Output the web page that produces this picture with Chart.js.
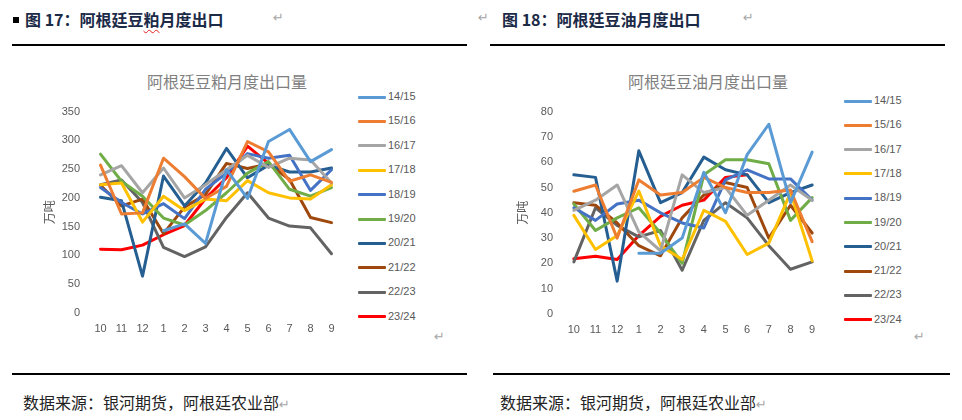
<!DOCTYPE html>
<html lang="zh">
<head>
<meta charset="utf-8">
<title>阿根廷豆粕、豆油月度出口</title>
<script src="https://cdn.jsdelivr.net/npm/chart.js@4.4.1/dist/chart.umd.min.js"></script>
<style>
  html, body { margin: 0; padding: 0; background: #fff; }
  body { width: 962px; height: 420px; position: relative; overflow: hidden; font-family: "Noto Sans CJK SC", sans-serif; }
  .abs { position: absolute; white-space: nowrap; }
  .fig-title { font-size: 16px; font-weight: 700; color: #1b2a47; line-height: 20px; }
  .sq { display: inline-block; width: 6px; height: 6px; background: #000; margin-right: 6px; vertical-align: 3px; }
  .wavy { text-decoration: underline wavy #e02020; text-underline-offset: 3px; text-decoration-thickness: 1px; }
  .ret { color: #a6a6a6; font-family: "DejaVu Sans", sans-serif; font-size: 13px; line-height: 16px; }
  .rule { position: absolute; height: 1.5px; background: #000; }
  .ctitle { font-size: 16px; color: #808080; line-height: 20px; transform: translateX(-50%); }
  .src { font-size: 16px; color: #222; line-height: 20px; }
  .legend-row { position: absolute; height: 14px; line-height: 14px; font-family: "Liberation Sans", sans-serif; font-size: 11px; color: #595959; white-space: nowrap; }
  .legend-row i { display: inline-block; width: 28px; height: 3px; vertical-align: middle; margin-right: 2px; border-radius: 1px; }
  canvas { position: absolute; }
</style>
</head>
<body>

<!-- figure headers -->
<div class="abs fig-title" style="left:13px; top:9px;"><span class="sq"></span>图 17：阿根廷豆<span class="wavy">粕</span>月度出口</div>
<div class="abs ret" style="left:273px; top:10px;">↵</div>
<div class="abs ret" style="left:478px; top:10px;">↵</div>
<div class="abs fig-title" style="left:502px; top:9px;">图 18：阿根廷豆油月度出口</div>
<div class="abs ret" style="left:743px; top:10px;">↵</div>

<div class="rule" style="left:12px; width:455px; top:44px;"></div>
<div class="rule" style="left:490px; width:455px; top:44px;"></div>

<div class="abs ctitle" style="left:227px; top:71px;">阿根廷豆粕月度出口量</div>
<div class="abs ctitle" style="left:708px; top:71px;">阿根廷豆油月度出口量</div>

<canvas id="mealChart" width="320" height="248" style="left:30px; top:95px;"></canvas>
<canvas id="oilChart" width="328" height="249" style="left:503px; top:95px;"></canvas>
<div id="mealLegend"></div>
<div id="oilLegend"></div>

<div class="abs ret" style="left:434px; top:329px;">↵</div>
<div class="abs ret" style="left:914px; top:329px;">↵</div>

<div class="rule" style="left:12px; width:455px; top:373px;"></div>
<div class="rule" style="left:493px; width:457px; top:373px;"></div>

<div class="abs src" style="left:23px; top:392px;">数据来源：银河期货，阿根廷农业部<span class="ret">↵</span></div>
<div class="abs src" style="left:500px; top:392px;">数据来源：银河期货，阿根廷农业部<span class="ret">↵</span></div>

<script>
// marketing years run Oct -> Sep
const months = ["10", "11", "12", "1", "2", "3", "4", "5", "6", "7", "8", "9"];
const seasons = ["14/15", "15/16", "16/17", "17/18", "18/19", "19/20", "20/21", "21/22", "22/23", "23/24"];
const colors = ["#5B9BD5", "#ED7D31", "#A5A5A5", "#FFC000", "#4472C4", "#70AD47", "#255E91", "#9E480E", "#636363", "#FF0000"];

// soybean meal exports, 10k tonnes
const meal1415 = [null, null, null, 143, 155, 121, 249, 199, 298, 319, 263, 284];
const meal1516 = [257, 172, 174, 269, 237, 199, 220, 298, 280, 229, 240, 227];
const meal1617 = [240, 256, 209, 252, 200, 223, 249, 274, 253, 269, 266, 226];
const meal1718 = [223, 226, 158, 203, 178, 198, 195, 230, 209, 200, 198, 223];
const meal1819 = [218, 192, 172, 190, 164, 215, 243, 277, 269, 274, 213, 249];
const meal1920 = [276, 229, 203, 165, 153, 178, 209, 243, 263, 215, 203, 218];
const meal2021 = [201, 195, 64, 238, 186, 226, 286, 235, 257, 245, 245, 252];
const meal2122 = [222, 186, 198, 138, 184, 206, 260, 251, 259, 232, 166, 157];
const meal2223 = [223, 231, 192, 114, 98, 115, 166, 209, 165, 151, 148, 103];
const meal2324 = [111, 110, 118, 136, 152, 199, 235, 290, 260, null, null, null];

// soybean oil exports, 10k tonnes
const oil1415 = [null, null, null, 24, 24, 30, 56, 40, 63, 75, 44, 64];
const oil1516 = [48.5, 51, 30, 53, 47, 48, 54, 50, 48, 48, 49, 28.6];
const oil1617 = [41, 45, 51, 32.5, 25, 55, 48, 50, 39, 45, 51, 45];
const oil1718 = [39, 25.5, 31, 48.6, 27, 21.5, 41, 36.6, 23.5, 28, 48, 21];
const oil1819 = [42, 37, 43.5, 45, 40, 36, 34, 53, 57, 53.4, 53.4, 45];
const oil1920 = [43.5, 33, 38, 42, 32, 20, 55, 61, 61, 59.4, 37, 46];
const oil2021 = [55, 54, 13, 64.5, 44, 48, 62, 57, 55, 44, 48, 51];
const oil2122 = [44, 43, 36, 27, 23, 38, 47, 52, 50, 30, 43, 32];
const oil2223 = [20.6, 42, 35, 30.5, 33, 17.3, 37, 44, 38, 27, 17.7, 20.6];
const oil2324 = [21.8, 22.8, 21.5, 31, 38.6, 43, 45, 54, 55, null, null, null];

const mealSeries = [meal1415, meal1516, meal1617, meal1718, meal1819, meal1920, meal2021, meal2122, meal2223, meal2324];
const oilSeries = [oil1415, oil1516, oil1617, oil1718, oil1819, oil1920, oil2021, oil2122, oil2223, oil2324];

const tickColor = "#595959";
const tickFont = { family: "Liberation Sans", size: 11 };

// draws one excel-style line chart
function drawChart(id, series, yMax, yStep) {
  const datasets = series.map((values, i) => ({
    label: seasons[i],
    data: values,
    borderColor: colors[i],
    backgroundColor: colors[i],
    borderWidth: 3,
    pointRadius: 0,
    tension: 0,
    borderCapStyle: "round",
    borderJoinStyle: "round",
  }));

  new Chart(document.getElementById(id), {
    type: "line",
    data: { labels: months, datasets: datasets },
    options: {
      responsive: false,
      animation: false,
      layout: { padding: { top: 12.3, right: 8, bottom: 0, left: 0 } },
      plugins: {
        legend: { display: false },
        tooltip: { enabled: false },
      },
      scales: {
        x: {
          offset: true,
          grid: { display: false, drawTicks: false },
          border: { display: false },
          ticks: { color: tickColor, font: tickFont, padding: 9, maxRotation: 0, autoSkip: false },
          afterFit: (s) => { s.height = 30; },
        },
        y: {
          min: 0,
          max: yMax,
          grid: { display: false, drawTicks: false },
          border: { display: false },
          ticks: { stepSize: yStep, color: tickColor, font: tickFont, padding: 10 },
          title: {
            display: true,
            text: "万吨",
            color: tickColor,
            font: { family: "Noto Sans CJK SC", size: 12 },
            padding: { top: 12, bottom: 0 },
          },
          afterFit: (s) => { s.width = 60; },
        },
      },
    },
  });
}

// legend column to the right of each plot
function drawLegend(id, left, top, step) {
  const box = document.getElementById(id);
  seasons.forEach((name, i) => {
    const row = document.createElement("div");
    row.className = "legend-row";
    row.style.left = left + "px";
    row.style.top = (top + i * step - 7) + "px";
    row.innerHTML = `<i style="background:${colors[i]}"></i>${name}`;
    box.appendChild(row);
  });
}

drawChart("mealChart", mealSeries, 350, 50);
drawChart("oilChart", oilSeries, 80, 10);
drawLegend("mealLegend", 358, 96, 24.4);
drawLegend("oilLegend", 844, 100, 24.3);
</script>
</body>
</html>
